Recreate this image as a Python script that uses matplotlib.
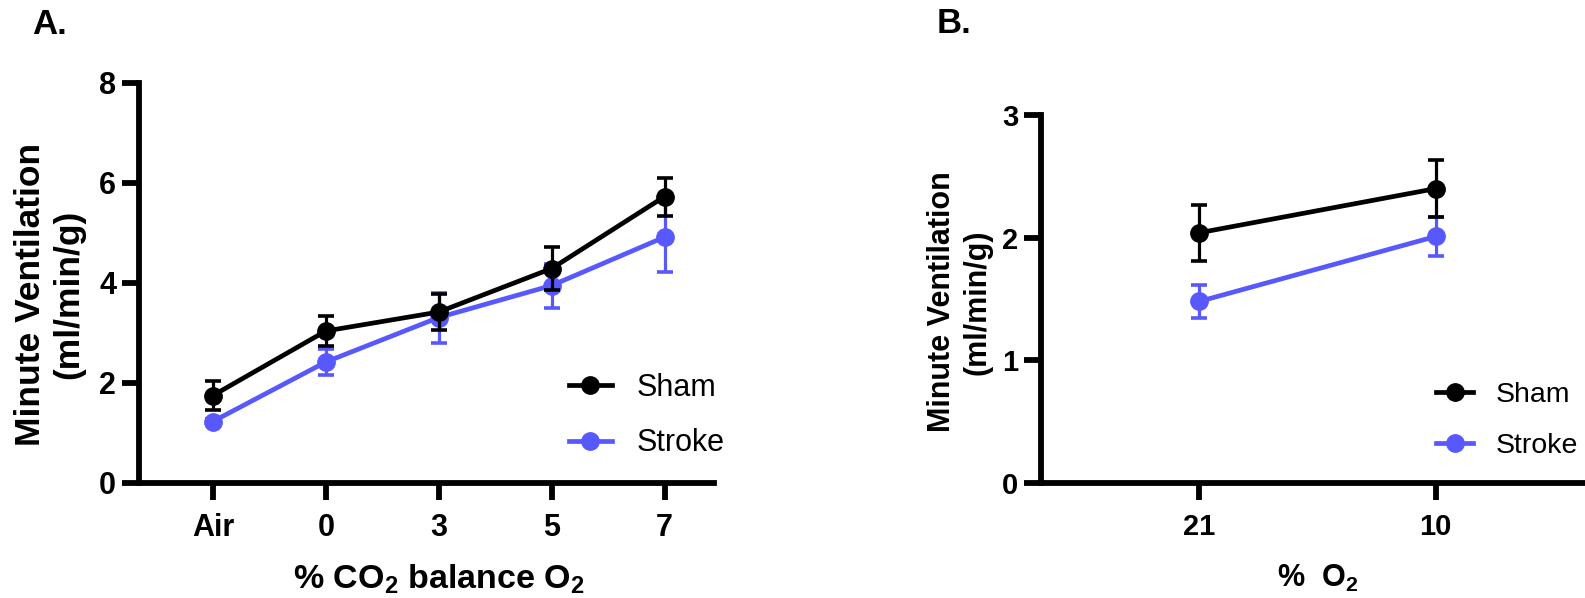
import numpy as np
import matplotlib
matplotlib.use("Agg")
import matplotlib.pyplot as plt
import matplotlib.transforms as mtransforms

plt.rcParams['font.family'] = ['Liberation Sans', 'DejaVu Sans']
plt.rcParams['mathtext.fontset'] = 'custom'
plt.rcParams['mathtext.rm'] = 'Liberation Sans:bold'
plt.rcParams['mathtext.bf'] = 'Liberation Sans:bold'

# --- Data ---
co2_labels = ["Air", "0", "3", "5", "7"]
sham_co2 = [1.75, 3.04, 3.42, 4.29, 5.73]
sham_co2_err = [0.29, 0.30, 0.36, 0.43, 0.38]
stroke_co2 = [1.23, 2.42, 3.31, 3.95, 4.92]
stroke_co2_err = [0.05, 0.26, 0.50, 0.44, 0.70]

o2_labels = ["21", "10"]
sham_o2 = [2.04, 2.40]
sham_o2_err = [0.23, 0.235]
stroke_o2 = [1.48, 2.01]
stroke_o2_err = [0.135, 0.16]

BLACK = "#000000"
BLUE = "#5858FF"
W, H = 1585, 598


def px(x, y):
    # pixel (from top-left) -> figure fraction
    return x / W, 1 - y / H


def style_axes(ax, tick_fs):
    for s in ["top", "right"]:
        ax.spines[s].set_visible(False)
    for s in ["left", "bottom"]:
        ax.spines[s].set_linewidth(4.2)
    ax.tick_params(axis="both", width=4.2, length=12.5, labelsize=tick_fs)
    ax.tick_params(axis="y", pad=4)
    ax.tick_params(axis="x", pad=9)
    for lab in ax.get_xticklabels() + ax.get_yticklabels():
        lab.set_fontweight("bold")


def draw_series(ax, x, y, err, color, label, z):
    ax.errorbar(x, y, yerr=err, fmt="none", ecolor=color, elinewidth=2.3,
                capsize=6, capthick=2.6, zorder=z, clip_on=False)
    ax.plot(x, y, "-o", color=color, lw=3.4, ms=12.5, label=label, zorder=z + 0.5,
            clip_on=False)


fig = plt.figure(figsize=(W / 100, H / 100), dpi=100)

# --- Panel A ---
l, b = px(139, 483)
_, t = px(139, 83)
axA = fig.add_axes([l, b, (714 - 139) / W, t - b])
xa = np.arange(len(co2_labels))
draw_series(axA, xa, stroke_co2, stroke_co2_err, BLUE, "Stroke", 2)
draw_series(axA, xa, sham_co2, sham_co2_err, BLACK, "Sham", 3)
axA.set_xlim(-0.654, 4.437)
axA.set_ylim(0, 8)
axA.set_yticks([0, 2, 4, 6, 8])
axA.set_xticks(xa)
axA.set_xticklabels(co2_labels)
style_axes(axA, 22)
axA.set_xlabel(r"% CO$_{2}$ balance O$_{2}$", fontsize=24.5, fontweight="bold")
axA.xaxis.set_label_coords(2, px(0, 562)[1],
                           transform=mtransforms.blended_transform_factory(axA.transData, fig.transFigure))
axA.set_ylabel("Minute Ventilation\n(ml/min/g)", fontsize=25.5, fontweight="bold")
axA.yaxis.set_label_coords(*px(85, 294), transform=fig.transFigure)
h, lb = axA.get_legend_handles_labels()
axA.legend(h[::-1], lb[::-1], loc="upper left", bbox_to_anchor=px(569, 373),
           bbox_transform=fig.transFigure, frameon=False, fontsize=22,
           borderpad=0, borderaxespad=0, handlelength=1.4, handletextpad=0.8,
           labelspacing=0.83)

# --- Panel B ---
l, b = px(1041, 483)
_, t = px(1041, 115)
axB = fig.add_axes([l, b, 1 - l, t - b])
xb = np.arange(len(o2_labels))
draw_series(axB, xb, stroke_o2, stroke_o2_err, BLUE, "Stroke", 2)
draw_series(axB, xb, sham_o2, sham_o2_err, BLACK, "Sham", 3)
axB.set_xlim(-0.669, 1.631)
axB.set_ylim(0, 3)
axB.set_yticks([0, 1, 2, 3])
axB.set_xticks(xb)
axB.set_xticklabels(o2_labels)
style_axes(axB, 21)
axB.set_xlabel(r"%  O$_{2}$", fontsize=22, fontweight="bold")
axB.xaxis.set_label_coords(0.5, px(0, 563)[1],
                           transform=mtransforms.blended_transform_factory(axB.transData, fig.transFigure))
axB.set_ylabel("Minute Ventilation\n(ml/min/g)", fontsize=22, fontweight="bold")
axB.yaxis.set_label_coords(*px(992, 302), transform=fig.transFigure)
h, lb = axB.get_legend_handles_labels()
axB.legend(h[::-1], lb[::-1], loc="upper left", bbox_to_anchor=px(1436, 382),
           bbox_transform=fig.transFigure, frameon=False, fontsize=20.5,
           borderpad=0, borderaxespad=0, handlelength=1.3, handletextpad=0.8,
           labelspacing=0.88)

fig.text(*px(32, 8), "A.", fontsize=25, fontweight="bold", va="top", ha="left")
fig.text(*px(937, 7), "B.", fontsize=25, fontweight="bold", va="top", ha="left")

fig.savefig("out.png", dpi=100)
